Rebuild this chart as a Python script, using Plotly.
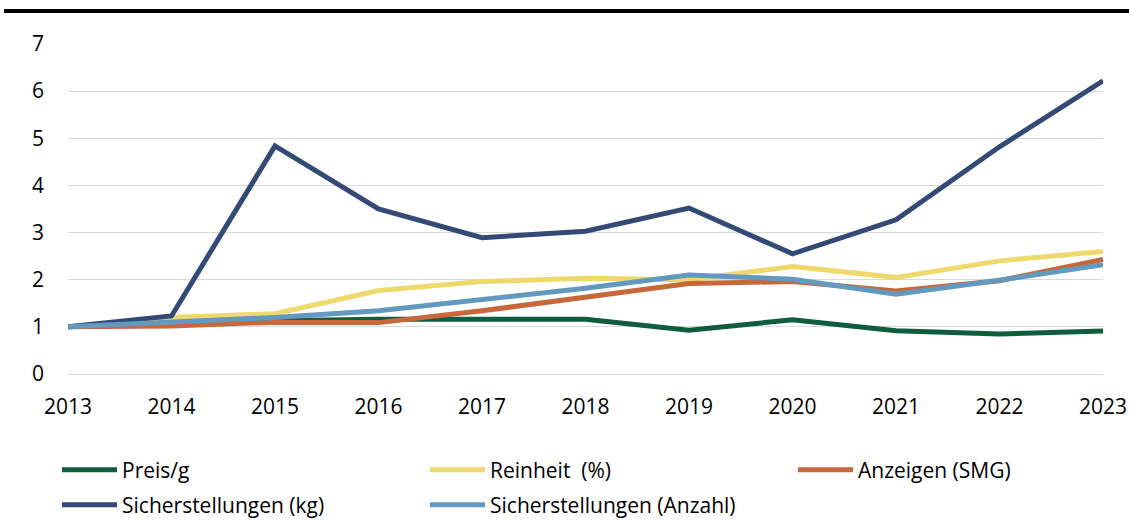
import plotly.graph_objects as go

years = [2013, 2014, 2015, 2016, 2017, 2018, 2019, 2020, 2021, 2022, 2023]
preis_g = [1.0, 1.07, 1.13, 1.16, 1.16, 1.16, 0.93, 1.15, 0.92, 0.85, 0.91]
reinheit = [1.0, 1.2, 1.28, 1.77, 1.96, 2.03, 2.0, 2.28, 2.05, 2.40, 2.60]
anzeigen = [1.0, 1.02, 1.1, 1.09, 1.34, 1.62, 1.92, 1.96, 1.76, 1.98, 2.43]
sicher_kg = [1.0, 1.23, 4.84, 3.50, 2.89, 3.03, 3.52, 2.55, 3.27, 4.82, 6.22]
sicher_anz = [1.0, 1.1, 1.2, 1.34, 1.57, 1.82, 2.10, 2.01, 1.69, 1.99, 2.32]
y_ticks = [0, 1, 2, 3, 4, 5, 6, 7]

series = [
    ("Preis/g", preis_g, "#0f5c3e", "legend"),
    ("Reinheit  (%)", reinheit, "#f0d96c", "legend"),
    ("Anzeigen (SMG)", anzeigen, "#c7673a", "legend"),
    ("Sicherstellungen (kg)", sicher_kg, "#344a76", "legend2"),
    ("Sicherstellungen (Anzahl)", sicher_anz, "#6299be", "legend2"),
]

fig = go.Figure()
for name, vals, col, lg in series:
    fig.add_trace(go.Scatter(x=years, y=vals, name=name, mode="lines",
                             line=dict(color=col, width=5), legend=lg))

font = "Open Sans, Noto Sans, sans-serif"
L, R, T, B = 68, 26, 44, 146
H = 520 - T - B
W = 1129 - L - R

def py(p):
    return (520 - B - p) / H

def px(p):
    return (p - L) / W

legend_common = dict(orientation="h", xanchor="left", yanchor="middle",
                     font=dict(size=21, family=font, color="#000000"),
                     itemwidth=55, entrywidth=298, entrywidthmode="pixels",
                     bgcolor="rgba(0,0,0,0)")

fig.update_layout(
    width=1129, height=520,
    margin=dict(l=L, r=R, t=T, b=B, autoexpand=False),
    plot_bgcolor="white", paper_bgcolor="white",
    font=dict(family=font, size=21, color="#000000"),
    xaxis=dict(range=[2013, 2023], tickvals=years, showgrid=False, zeroline=False,
               showline=False, ticks="", ticklabelstandoff=18,
               tickfont=dict(size=21)),
    yaxis=dict(range=[0, 7], tickvals=y_ticks, showgrid=True, gridcolor="#d9d9d9",
               gridwidth=1, zeroline=True, zerolinecolor="#d9d9d9", zerolinewidth=1,
               showline=False, ticks="", ticklabelstandoff=23, tickfont=dict(size=21)),
    legend=dict(x=px(62 - 5), y=py(470), **legend_common),
    legend2=dict(x=px(62 - 5), y=py(505), **legend_common),
    showlegend=True,
)
fig.add_shape(type="line", xref="paper", yref="paper",
              x0=px(4), x1=px(1129), y0=py(11), y1=py(11),
              line=dict(color="black", width=4))
fig.write_html("out.html", config={"displayModeBar": False},
               post_script="document.body.style.margin='0';")
